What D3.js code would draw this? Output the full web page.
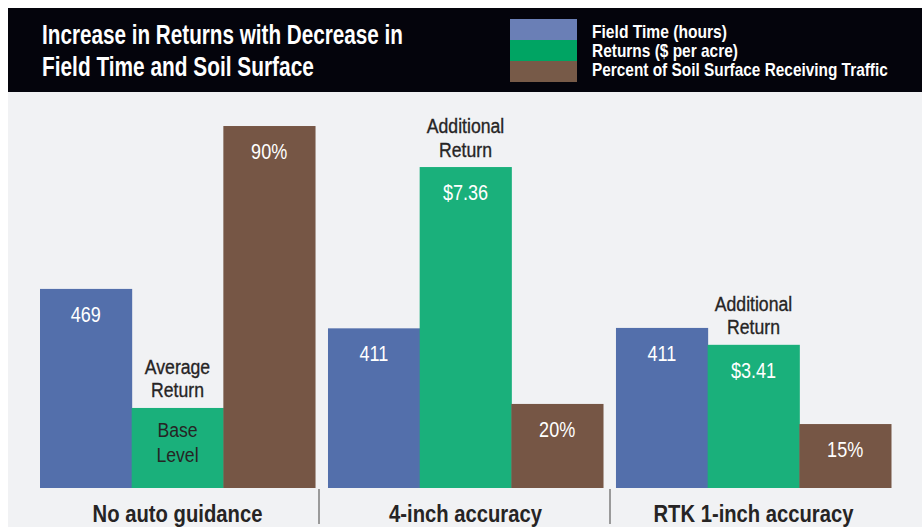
<!DOCTYPE html>
<html>
<head>
<meta charset="utf-8">
<script src="https://cdn.jsdelivr.net/npm/d3@7"></script>
<style>
  html, body { margin: 0; padding: 0; background: #ffffff; }
  svg { display: block; }
  text { font-family: "Liberation Sans", Arial, "Roboto", sans-serif; }
</style>
</head>
<body>
<svg id="chart" width="922" height="527"></svg>
<script>
// ---- Data ----
const categories = ["No auto guidance", "4-inch accuracy", "RTK 1-inch accuracy"];
const seriesNames = ["Field Time (hours)", "Returns ($ per acre)", "Percent of Soil Surface Receiving Traffic"];
// Printed values
const fieldTimeLabels = ["469", "411", "411"];
const returnsLabels = ["", "$7.36", "$3.41"];
const soilLabels = ["90%", "20%", "15%"];
// Drawn bar heights (relative index; 90% bar = 90)
const fieldTimeHeights = [49.5, 39.7, 39.8];
const returnsHeights = [19.9, 79.8, 35.6];
const soilHeights = [90, 20.9, 15.9];
// Annotations
const aboveReturnNotes = [["Average", "Return"], ["Additional", "Return"], ["Additional", "Return"]];
const insideReturnNotes = [["Base", "Level"], [], []];
const titleLines = ["Increase in Returns with Decrease in", "Field Time and Soil Surface"];

// ---- Layout ----
const svg = d3.select("#chart");
const W = 922, H = 527;
const barColors = ["#536fab", "#1ab07b", "#765645"];
const legendColors = ["#6a7fb6", "#00a463", "#775a48"];
const dark = "#262424";

// Condensed look: place text at (x,y) and scale it horizontally.
// target: function returning either a width in px (fit) or null -> use factor k
function squeeze(sel, xf, yf, widthFn, k) {
  sel.each(function(d, i) {
    const t = d3.select(this).attr("x", 0).attr("y", 0);
    const w = this.getComputedTextLength();
    const tw = widthFn ? widthFn(d, i) : w * k;
    const s = w > 0 ? tw / w : 1;
    t.attr("transform", `translate(${xf(d, i)},${yf(d, i)}) scale(${s},1)`);
  });
}

// backgrounds
svg.append("rect").attr("x", 8).attr("y", 92).attr("width", W - 8).attr("height", H - 92).attr("fill", "#f1f2f4");
svg.append("rect").attr("x", 8).attr("y", 8).attr("width", W - 8).attr("height", 84).attr("fill", "#04040c");

// title
const titleW = [361, 272];
svg.append("g").selectAll("text").data(titleLines).join("text")
  .attr("fill", "#ffffff").attr("font-weight", "bold").attr("font-size", 27)
  .text(d => d)
  .call(squeeze, () => 42, (d, i) => 44 + i * 32, (d, i) => titleW[i]);

// legend
const legendW = [135, 146, 296];
const lg = svg.append("g");
lg.selectAll("rect").data(seriesNames).join("rect")
  .attr("x", 510).attr("y", (d, i) => 19 + i * 21).attr("width", 67).attr("height", 21)
  .attr("fill", (d, i) => legendColors[i]);
lg.selectAll("text").data(seriesNames).join("text")
  .attr("fill", "#ffffff").attr("font-weight", "bold").attr("font-size", 17.5)
  .text(d => d)
  .call(squeeze, () => 592, (d, i) => 37.5 + i * 19.2, (d, i) => legendW[i]);

// scales
const x0 = d3.scaleBand().domain(categories).range([40, 891]).paddingInner(0.045).paddingOuter(0);
const x1 = d3.scaleBand().domain([0, 1, 2]).range([0, x0.bandwidth()]).padding(0);
const y = d3.scaleLinear().domain([0, 100]).range([488, 488 - 402.2]);

const rows = categories.map((c, i) => ({
  cat: c,
  bars: [
    { s: 0, h: fieldTimeHeights[i], label: fieldTimeLabels[i] },
    { s: 1, h: returnsHeights[i], label: returnsLabels[i] },
    { s: 2, h: soilHeights[i], label: soilLabels[i] }
  ],
  above: aboveReturnNotes[i],
  inside: insideReturnNotes[i]
}));

const groups = svg.append("g").selectAll("g").data(rows).join("g")
  .attr("transform", d => `translate(${x0(d.cat)},0)`);

groups.selectAll("rect").data(d => d.bars).join("rect")
  .attr("x", d => x1(d.s)).attr("width", x1.bandwidth() + 0.5)
  .attr("y", d => y(d.h)).attr("height", d => y(0) - y(d.h))
  .attr("fill", d => barColors[d.s]);

const K = 0.84; // condensed factor for regular text
groups.selectAll("text.val").data(d => d.bars.filter(b => b.label)).join("text")
  .attr("class", "val")
  .attr("text-anchor", "middle").attr("fill", "#ffffff").attr("font-size", 21.5)
  .text(d => d.label)
  .call(squeeze, d => x1(d.s) + x1.bandwidth() / 2, d => y(d.h) + 33, null, K);

// notes above / inside green bar
groups.each(function(d) {
  const g = d3.select(this);
  const gb = d.bars[1];
  const cx = x1(1) + x1.bandwidth() / 2;
  const top = y(gb.h);
  g.selectAll("text.above").data(d.above).join("text")
    .attr("class", "above")
    .attr("text-anchor", "middle").attr("fill", dark).attr("font-size", 21)
    .attr("stroke", dark).attr("stroke-width", 0.35)
    .text(t => t)
    .call(squeeze, () => cx, (t, j) => top - 34 + j * 23.5, null, K);
  g.selectAll("text.inside").data(d.inside).join("text")
    .attr("class", "inside")
    .attr("text-anchor", "middle").attr("fill", dark).attr("font-size", 21)
    .text(t => t)
    .call(squeeze, () => cx, (t, j) => top + 29 + j * 25, null, K);
});

// category labels
const catW = [170, 153, 200];
svg.append("g").selectAll("text").data(categories).join("text")
  .attr("text-anchor", "middle").attr("fill", dark).attr("font-weight", "bold").attr("font-size", 24.5)
  .text(d => d)
  .call(squeeze, d => x0(d) + x0.bandwidth() / 2, () => 522, (d, i) => catW[i]);

// separators
const sepOffsets = [-9, -6];
svg.append("g").selectAll("line").data(categories.slice(1)).join("line")
  .attr("x1", (d, i) => x0(d) + sepOffsets[i]).attr("x2", (d, i) => x0(d) + sepOffsets[i])
  .attr("y1", 489).attr("y2", 524)
  .attr("stroke", "#9a9a9a").attr("stroke-width", 2);
</script>
</body>
</html>
